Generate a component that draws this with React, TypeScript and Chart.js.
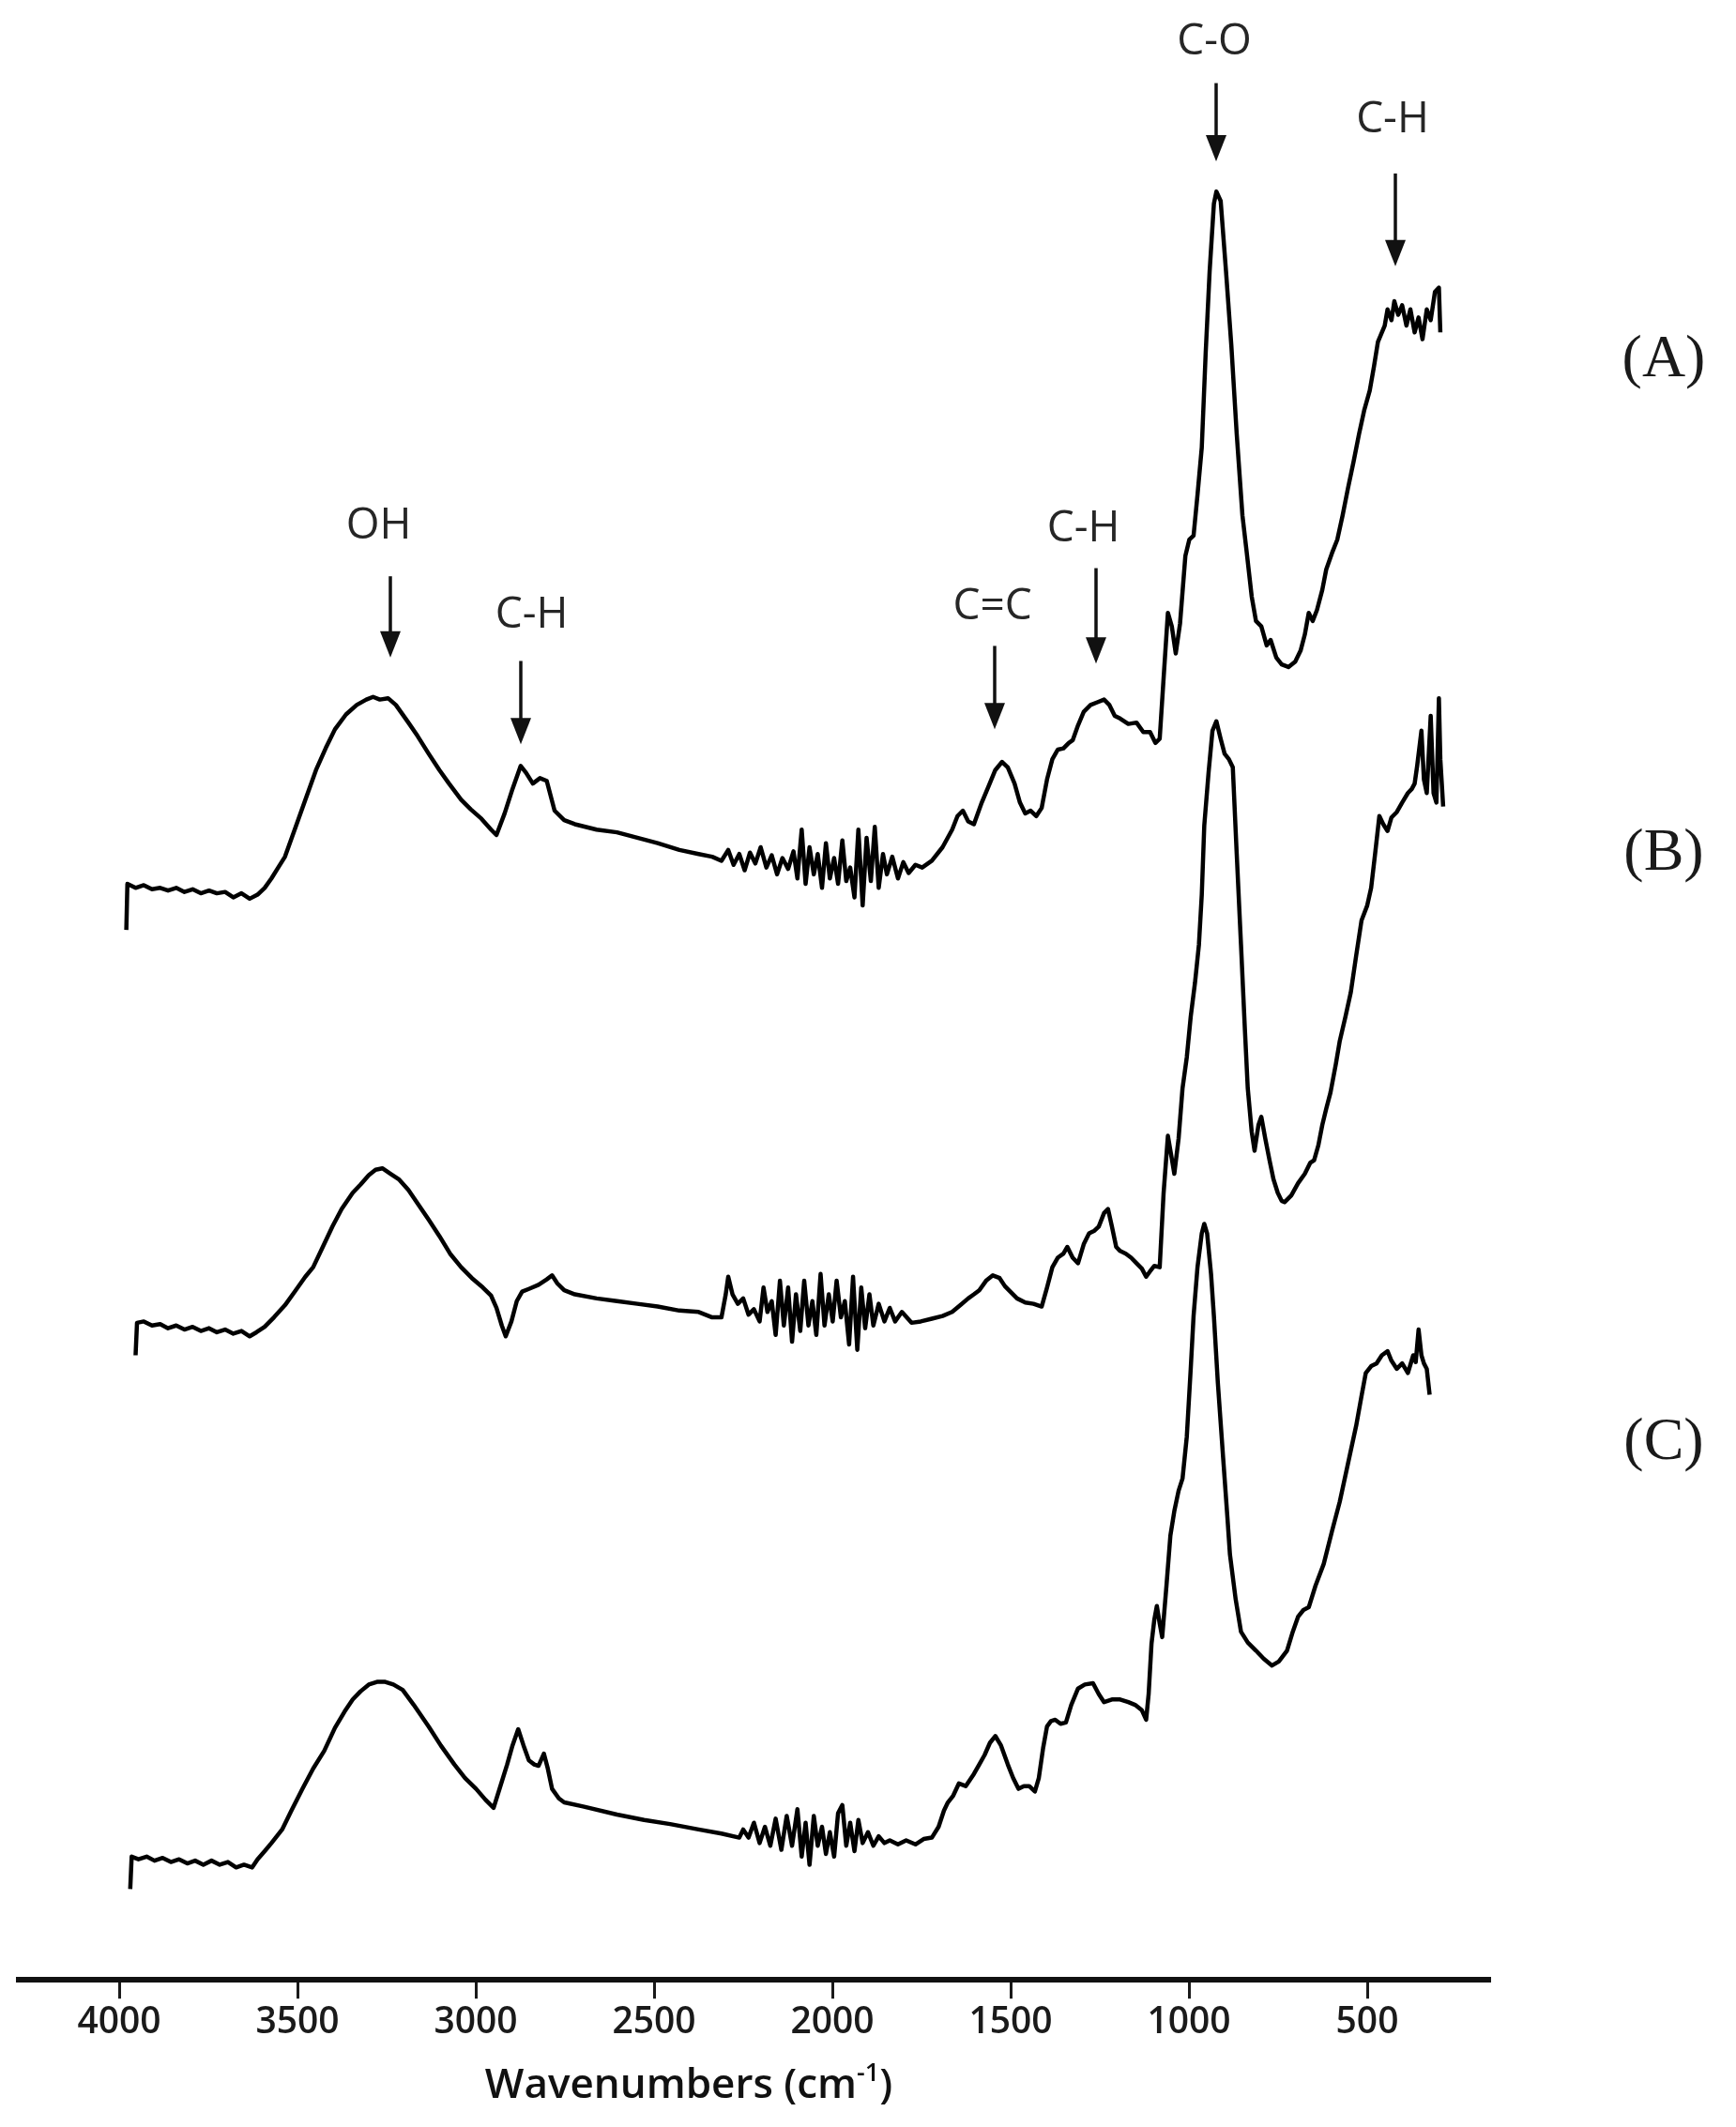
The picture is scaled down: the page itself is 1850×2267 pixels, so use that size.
import React, { useEffect, useRef } from "react";
import { Chart, registerables } from "chart.js";

Chart.register(...registerables);

// ---------- data (wavenumber cm-1, absorbance a.u. with vertical offsets) ----------
const tickValues = [4000, 3500, 3000, 2500, 2000, 1500, 1000, 500];

const spectrumA: [number, number][] = [
  [3980, 7.75], [3977, 8.09], [3954, 8.06], [3931, 8.08], [3908, 8.05], [3885, 8.06], [3863, 8.04], [3840, 8.06],
  [3817, 8.03], [3794, 8.05], [3771, 8.02], [3748, 8.04], [3726, 8.02], [3703, 8.03], [3680, 7.99], [3657, 8.02],
  [3634, 7.98], [3612, 8.01], [3592, 8.06], [3573, 8.13], [3554, 8.21], [3535, 8.29], [3505, 8.51], [3478, 8.71],
  [3448, 8.93], [3421, 9.09], [3395, 9.23], [3364, 9.34], [3334, 9.41], [3307, 9.45], [3288, 9.47], [3269, 9.45],
  [3246, 9.46], [3224, 9.41], [3189, 9.28], [3163, 9.18], [3132, 9.05], [3102, 8.93], [3075, 8.83], [3041, 8.71],
  [3014, 8.64], [2984, 8.57], [2957, 8.49], [2942, 8.45], [2919, 8.61], [2897, 8.79], [2874, 8.96], [2859, 8.91],
  [2840, 8.83], [2820, 8.87], [2801, 8.85], [2779, 8.63], [2752, 8.56], [2722, 8.53], [2661, 8.49], [2604, 8.47],
  [2547, 8.43], [2490, 8.39], [2429, 8.34], [2375, 8.31], [2337, 8.29], [2311, 8.26],
  [2292, 8.34], [2277, 8.23], [2261, 8.31], [2246, 8.19], [2231, 8.32], [2216, 8.24], [2201, 8.36], [2185, 8.21],
  [2170, 8.3], [2155, 8.16], [2140, 8.28], [2124, 8.2], [2109, 8.33], [2098, 8.13], [2086, 8.49], [2075, 8.09],
  [2064, 8.36], [2052, 8.16], [2041, 8.31], [2029, 8.06], [2018, 8.39], [2007, 8.13], [1995, 8.28], [1984, 8.09],
  [1972, 8.41], [1961, 8.11], [1950, 8.21], [1938, 7.99], [1927, 8.49], [1915, 7.93], [1904, 8.43], [1892, 8.11],
  [1881, 8.51], [1870, 8.06], [1858, 8.31], [1847, 8.16], [1832, 8.29], [1816, 8.13], [1801, 8.25], [1786, 8.17],
  [1767, 8.23], [1748, 8.21], [1721, 8.26], [1691, 8.36], [1664, 8.49], [1649, 8.59], [1634, 8.63], [1619, 8.55],
  [1603, 8.53], [1581, 8.69], [1562, 8.81], [1543, 8.93], [1524, 8.99], [1508, 8.95], [1489, 8.83], [1474, 8.69],
  [1459, 8.61], [1444, 8.63], [1428, 8.59], [1413, 8.65], [1398, 8.86], [1383, 9.01], [1368, 9.08], [1352, 9.09],
  [1337, 9.13], [1326, 9.15], [1311, 9.26], [1295, 9.36], [1276, 9.41], [1257, 9.43], [1238, 9.45], [1223, 9.41],
  [1208, 9.33], [1193, 9.31], [1170, 9.27], [1147, 9.28], [1128, 9.21], [1109, 9.21], [1094, 9.13], [1082, 9.16],
  [1071, 9.61], [1059, 10.09], [1048, 9.99], [1037, 9.79], [1025, 10.01], [1010, 10.51], [999, 10.63], [987, 10.66],
  [976, 10.96], [964, 11.31], [953, 12.01], [942, 12.61], [930, 13.11], [923, 13.2], [911, 13.13], [896, 12.61],
  [881, 12.06], [866, 11.41], [850, 10.81], [839, 10.56], [824, 10.21], [812, 10.03], [797, 9.99], [782, 9.85],
  [771, 9.89], [755, 9.76], [740, 9.71], [721, 9.69], [702, 9.73], [687, 9.81], [675, 9.93], [664, 10.09],
  [653, 10.03], [641, 10.11], [626, 10.26], [615, 10.41], [599, 10.53], [584, 10.63], [569, 10.81], [554, 11.01],
  [538, 11.21], [523, 11.41], [508, 11.59], [493, 11.73], [481, 11.91], [470, 12.09], [459, 12.16], [451, 12.21],
  [443, 12.33], [432, 12.25], [424, 12.39], [413, 12.29], [402, 12.36], [390, 12.21], [379, 12.33], [367, 12.16],
  [356, 12.27], [345, 12.11], [333, 12.33], [322, 12.25], [310, 12.46], [299, 12.49], [295, 12.16],
];

const spectrumB: [number, number][] = [
  [3954, 4.61], [3950, 4.85], [3931, 4.86], [3908, 4.83], [3885, 4.84], [3863, 4.81], [3840, 4.83], [3817, 4.8],
  [3794, 4.82], [3771, 4.79], [3748, 4.81], [3726, 4.78], [3703, 4.8], [3680, 4.77], [3657, 4.79], [3634, 4.75],
  [3615, 4.78], [3592, 4.82], [3566, 4.89], [3535, 4.98], [3505, 5.09], [3478, 5.19], [3456, 5.26], [3429, 5.41],
  [3402, 5.56], [3376, 5.69], [3345, 5.81], [3323, 5.87], [3300, 5.94], [3281, 5.98], [3262, 5.99], [3239, 5.95],
  [3216, 5.91], [3189, 5.83], [3163, 5.73], [3132, 5.61], [3102, 5.49], [3072, 5.36], [3041, 5.26], [3011, 5.18],
  [2980, 5.11], [2957, 5.05], [2942, 4.96], [2927, 4.83], [2916, 4.75], [2900, 4.86], [2885, 5.01], [2870, 5.08],
  [2851, 5.1], [2824, 5.13], [2801, 5.17], [2786, 5.2], [2771, 5.14], [2752, 5.09], [2722, 5.06], [2661, 5.03],
  [2604, 5.01], [2547, 4.99], [2490, 4.97], [2429, 4.94], [2375, 4.93], [2337, 4.89], [2311, 4.89], [2299, 5.06],
  [2292, 5.19], [2280, 5.06], [2265, 4.99], [2250, 5.03], [2235, 4.91], [2220, 4.95], [2204, 4.86], [2193, 5.11],
  [2182, 4.93], [2170, 5.01], [2159, 4.76], [2147, 5.16], [2136, 4.83], [2124, 5.11], [2113, 4.71], [2102, 5.06],
  [2090, 4.79], [2079, 5.16], [2067, 4.83], [2056, 5.01], [2045, 4.76], [2033, 5.21], [2022, 4.83], [2010, 5.06],
  [1999, 4.86], [1988, 5.16], [1976, 4.89], [1965, 5.01], [1953, 4.69], [1942, 5.19], [1930, 4.65], [1919, 5.11],
  [1908, 4.81], [1896, 5.06], [1885, 4.83], [1870, 4.99], [1854, 4.86], [1839, 4.96], [1824, 4.86], [1805, 4.93],
  [1778, 4.85], [1752, 4.86], [1721, 4.88], [1691, 4.9], [1664, 4.93], [1641, 4.98], [1619, 5.03], [1603, 5.06],
  [1588, 5.09], [1569, 5.16], [1550, 5.2], [1531, 5.18], [1516, 5.12], [1501, 5.08], [1482, 5.03], [1459, 5.0],
  [1436, 4.99], [1413, 4.97], [1398, 5.11], [1383, 5.26], [1368, 5.33], [1352, 5.36], [1341, 5.41], [1326, 5.33],
  [1311, 5.29], [1295, 5.43], [1280, 5.51], [1265, 5.53], [1253, 5.56], [1238, 5.66], [1227, 5.69], [1216, 5.56],
  [1204, 5.41], [1193, 5.38], [1177, 5.36], [1162, 5.33], [1147, 5.29], [1132, 5.25], [1120, 5.19], [1109, 5.23],
  [1097, 5.27], [1082, 5.26], [1071, 5.81], [1059, 6.23], [1048, 6.06], [1041, 5.95], [1029, 6.21], [1018, 6.58],
  [1006, 6.81], [995, 7.11], [983, 7.36], [972, 7.64], [964, 8.01], [957, 8.52], [945, 8.91], [934, 9.22],
  [923, 9.29], [911, 9.16], [900, 9.05], [888, 9.01], [877, 8.95], [866, 8.31], [854, 7.64], [843, 7.01],
  [835, 6.58], [824, 6.26], [816, 6.12], [805, 6.31], [797, 6.37], [786, 6.21], [774, 6.05], [763, 5.91],
  [751, 5.81], [740, 5.75], [732, 5.74], [713, 5.79], [694, 5.88], [675, 5.95], [660, 6.03], [649, 6.05],
  [637, 6.16], [626, 6.31], [615, 6.43], [603, 6.55], [588, 6.76], [577, 6.93], [561, 7.11], [546, 7.29],
  [531, 7.56], [516, 7.82], [500, 7.93], [489, 8.06], [478, 8.31], [466, 8.59], [455, 8.53], [443, 8.48],
  [432, 8.58], [417, 8.62], [402, 8.69], [386, 8.76], [375, 8.79], [367, 8.83], [360, 8.96], [348, 9.22],
  [341, 8.86], [333, 8.76], [322, 9.33], [314, 8.76], [306, 8.69], [299, 9.46], [295, 9.01], [287, 8.66],
];

const spectrumC: [number, number][] = [
  [3969, 0.67], [3965, 0.91], [3946, 0.89], [3923, 0.91], [3901, 0.88], [3878, 0.9], [3855, 0.87], [3832, 0.89],
  [3809, 0.86], [3787, 0.88], [3764, 0.85], [3741, 0.88], [3718, 0.85], [3695, 0.87], [3672, 0.83], [3650, 0.85],
  [3627, 0.83], [3612, 0.89], [3592, 0.95], [3573, 1.01], [3543, 1.11], [3517, 1.25], [3486, 1.41], [3456, 1.56],
  [3425, 1.69], [3395, 1.86], [3368, 1.98], [3345, 2.07], [3323, 2.13], [3300, 2.18], [3277, 2.2], [3254, 2.2],
  [3231, 2.18], [3205, 2.14], [3174, 2.03], [3132, 1.87], [3098, 1.73], [3060, 1.59], [3030, 1.49], [2999, 1.41],
  [2973, 1.33], [2950, 1.27], [2931, 1.43], [2912, 1.59], [2897, 1.73], [2881, 1.85], [2866, 1.73], [2851, 1.62],
  [2836, 1.59], [2824, 1.58], [2809, 1.67], [2798, 1.56], [2786, 1.41], [2767, 1.34], [2752, 1.31], [2699, 1.28],
  [2604, 1.22], [2528, 1.18], [2455, 1.15], [2375, 1.11], [2311, 1.08], [2261, 1.05], [2250, 1.11], [2235, 1.05],
  [2220, 1.16], [2204, 1.01], [2189, 1.13], [2174, 0.99], [2159, 1.19], [2143, 0.96], [2128, 1.21], [2113, 0.99],
  [2098, 1.26], [2086, 0.91], [2075, 1.16], [2064, 0.85], [2052, 1.21], [2041, 0.99], [2029, 1.13], [2018, 0.93],
  [2007, 1.09], [1995, 0.91], [1984, 1.23], [1972, 1.29], [1961, 0.99], [1950, 1.16], [1938, 0.95], [1927, 1.18],
  [1915, 1.01], [1900, 1.09], [1885, 0.99], [1870, 1.06], [1854, 1.01], [1839, 1.03], [1816, 1.0], [1793, 1.03],
  [1767, 1.0], [1744, 1.04], [1721, 1.05], [1702, 1.13], [1687, 1.25], [1676, 1.31], [1661, 1.36], [1645, 1.45],
  [1626, 1.43], [1603, 1.52], [1588, 1.59], [1573, 1.66], [1558, 1.75], [1543, 1.8], [1527, 1.73], [1508, 1.59],
  [1493, 1.49], [1478, 1.41], [1463, 1.43], [1448, 1.43], [1432, 1.39], [1421, 1.49], [1409, 1.71], [1398, 1.87],
  [1387, 1.91], [1375, 1.92], [1360, 1.89], [1345, 1.9], [1330, 2.03], [1311, 2.15], [1292, 2.18], [1269, 2.19],
  [1253, 2.11], [1238, 2.05], [1216, 2.07], [1193, 2.07], [1170, 2.05], [1151, 2.03], [1132, 1.99], [1120, 1.92],
  [1113, 2.11], [1105, 2.48], [1097, 2.66], [1090, 2.76], [1082, 2.63], [1075, 2.53], [1063, 2.91], [1052, 3.28],
  [1041, 3.46], [1029, 3.61], [1018, 3.7], [1006, 4.01], [995, 4.51], [987, 4.9], [976, 5.26], [964, 5.51],
  [957, 5.58], [949, 5.51], [938, 5.21], [930, 4.9], [919, 4.41], [904, 3.85], [892, 3.41], [885, 3.14],
  [869, 2.81], [854, 2.57], [835, 2.49], [812, 2.43], [790, 2.37], [767, 2.32], [748, 2.35], [725, 2.43],
  [710, 2.56], [694, 2.68], [679, 2.73], [664, 2.75], [645, 2.91], [622, 3.07], [599, 3.31], [577, 3.53],
  [554, 3.81], [531, 4.09], [516, 4.31], [504, 4.48], [489, 4.53], [474, 4.55], [459, 4.61], [443, 4.64],
  [432, 4.57], [417, 4.51], [402, 4.55], [386, 4.48], [371, 4.61], [364, 4.56], [356, 4.8], [348, 4.61],
  [341, 4.55], [333, 4.51], [325, 4.32],
];

// band assignments: label, wavenumber of arrow, arrow top/tip (a.u.), label position
const bandLabels = ["OH", "C-H", "C=C", "C-H", "C-O", "C-H"];
const bandArrowWn = [3240, 2874, 1545, 1261, 924, 421];
const bandArrowTop = [10.36, 9.735, 9.846, 10.42, 14.0, 13.333];
const bandArrowTip = [9.76, 9.12, 9.23, 9.715, 13.423, 12.648];
const bandLabelWn = [3272, 2843, 1551, 1296, 929, 429];
const bandLabelY = [10.73, 10.07, 10.136, 10.71, 14.3, 13.73];

const seriesTags = ["(A)", "(B)", "(C)"];
const seriesTagY = [11.95, 8.31, 3.96];

const xTitle = "Wavenumbers (cm";
const xTitleSup = "-1";

const overlayPlugin = {
  id: "overlay",
  afterDatasetsDraw(chart: any) {
    const { ctx, chartArea } = chart;
    const xs = chart.scales.x;
    const ys = chart.scales.y;
    ctx.save();
    // arrows + band labels
    for (let i = 0; i < bandLabels.length; i++) {
      const px = Math.round(xs.getPixelForValue(bandArrowWn[i]));
      const top = ys.getPixelForValue(bandArrowTop[i]);
      const tip = ys.getPixelForValue(bandArrowTip[i]);
      const head = 28;
      const half = 11;
      ctx.strokeStyle = "#111";
      ctx.fillStyle = "#111";
      ctx.lineWidth = 3.5;
      ctx.beginPath();
      ctx.moveTo(px, top);
      ctx.lineTo(px, tip - head + 4);
      ctx.stroke();
      ctx.beginPath();
      ctx.moveTo(px - half, tip - head);
      ctx.lineTo(px + half, tip - head);
      ctx.lineTo(px, tip);
      ctx.closePath();
      ctx.fill();
      ctx.fillStyle = "#262626";
      ctx.font = '400 46px "Open Sans"';
      ctx.textAlign = "center";
      ctx.textBaseline = "middle";
      ctx.fillText(bandLabels[i], xs.getPixelForValue(bandLabelWn[i]), ys.getPixelForValue(bandLabelY[i]));
    }
    // series tags
    ctx.fillStyle = "#1a1a1a";
    ctx.font = '400 64px "Liberation Serif"';
    ctx.textAlign = "center";
    ctx.textBaseline = "middle";
    for (let i = 0; i < seriesTags.length; i++) {
      ctx.fillText(seriesTags[i], chartArea.right + 185, ys.getPixelForValue(seriesTagY[i]));
    }
    // x axis title with superscript
    const cx = chartArea.left + 714;
    const base = chartArea.bottom + 126;
    ctx.fillStyle = "#111";
    ctx.textBaseline = "alphabetic";
    ctx.textAlign = "left";
    ctx.font = '600 44px "Open Sans"';
    const w1 = ctx.measureText(xTitle).width;
    const w3 = ctx.measureText(")").width;
    ctx.font = '600 27px "Open Sans"';
    const w2 = ctx.measureText(xTitleSup).width;
    let sx = cx - (w1 + w2 + w3) / 2;
    ctx.font = '600 44px "Open Sans"';
    ctx.fillText(xTitle, sx, base);
    sx += w1;
    ctx.font = '600 27px "Open Sans"';
    ctx.fillText(xTitleSup, sx, base - 18);
    sx += w2;
    ctx.font = '600 44px "Open Sans"';
    ctx.fillText(")", sx, base);
    ctx.restore();
  },
};

function toPoints(arr: [number, number][]) {
  return arr.map(([x, y]) => ({ x, y }));
}

export default function App() {
  const canvasRef = useRef<HTMLCanvasElement | null>(null);

  useEffect(() => {
    const canvas = canvasRef.current;
    if (!canvas) return;
    const lineStyle = {
      borderColor: "#000",
      borderWidth: 4.5,
      pointRadius: 0,
      tension: 0,
      fill: false,
      borderJoinStyle: "round" as const,
      borderCapStyle: "butt" as const,
    };
    const chart = new Chart(canvas, {
      type: "line",
      data: {
        datasets: [
          { label: "A", data: toPoints(spectrumA), ...lineStyle },
          { label: "B", data: toPoints(spectrumB), ...lineStyle },
          { label: "C", data: toPoints(spectrumC), ...lineStyle },
        ],
      },
      options: {
        animation: false,
        responsive: false,
        devicePixelRatio: 1,
        layout: { padding: { left: 12, right: 254, top: 0, bottom: 78 } },
        plugins: {
          legend: { display: false },
          tooltip: { enabled: false },
          title: { display: false },
        },
        scales: {
          x: {
            type: "linear",
            reverse: true,
            min: 155.3,
            max: 4281.6,
            afterBuildTicks: (axis: any) => {
              axis.ticks = tickValues.map((v) => ({ value: v }));
            },
            grid: {
              display: true,
              drawOnChartArea: false,
              drawTicks: true,
              tickLength: 20,
              tickWidth: 3,
              tickColor: "#1a1a1a",
            },
            border: { display: true, color: "#111", width: 6 },
            ticks: {
              autoSkip: false,
              maxRotation: 0,
              padding: 2,
              color: "#1a1a1a",
              font: { family: "Open Sans", size: 39, weight: "600" },
              callback: (v: any) => String(v),
            },
          },
          y: { display: false, min: 0, max: 14.558 },
        },
      },
      plugins: [overlayPlugin],
    } as any);
    return () => chart.destroy();
  }, []);

  return (
    <canvas
      ref={canvasRef}
      width={1834}
      height={2251}
      style={{ display: "block", width: "1834px", height: "2251px", background: "#fff" }}
    />
  );
}
